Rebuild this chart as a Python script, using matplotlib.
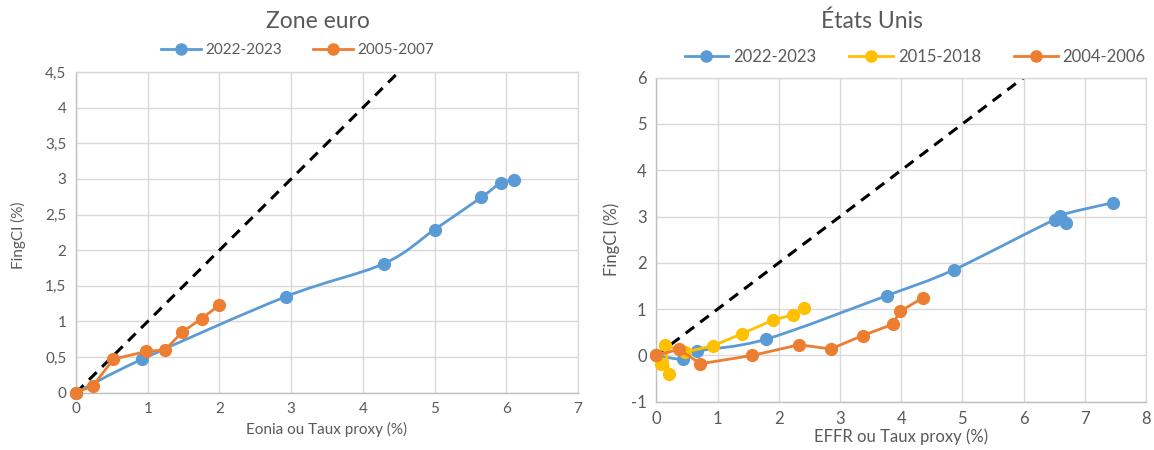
import numpy as np
import matplotlib
matplotlib.use("Agg")
import matplotlib.pyplot as plt
from matplotlib.path import Path
from matplotlib.patches import PathPatch
from matplotlib.lines import Line2D
from matplotlib.ticker import FuncFormatter, MultipleLocator

plt.rcParams['font.family'] = ['Lato', 'DejaVu Sans']

# ---- data: Zone euro ----
ez_2022_x = [0.0, 0.92, 2.93, 4.29, 5.00, 5.65, 5.92, 6.11]
ez_2022_y = [0.0, 0.47, 1.35, 1.81, 2.29, 2.74, 2.94, 2.98]
ez_2005_x = [0.0, 0.24, 0.52, 0.98, 1.24, 1.48, 1.75, 2.00]
ez_2005_y = [0.0, 0.10, 0.47, 0.58, 0.60, 0.85, 1.04, 1.23]

# ---- data: Etats Unis ----
us_2022_x = [0.0, 0.44, 0.66, 1.79, 3.76, 4.86, 6.51, 6.70, 6.59, 7.46]
us_2022_y = [0.0, -0.08, 0.09, 0.35, 1.29, 1.85, 2.93, 2.87, 3.02, 3.30]
us_2015_x = [0.0, 0.07, 0.21, 0.14, 0.46, 0.93, 1.40, 1.90, 2.24, 2.41]
us_2015_y = [0.0, -0.19, -0.41, 0.23, 0.07, 0.21, 0.47, 0.76, 0.88, 1.02]
us_2004_x = [0.0, 0.37, 0.72, 1.57, 2.33, 2.85, 3.37, 3.86, 3.98, 4.36]
us_2004_y = [0.0, 0.13, -0.18, 0.00, 0.23, 0.14, 0.43, 0.67, 0.95, 1.25]

BLUE = "#5B9BD5"
ORANGE = "#ED7D31"
YELLOW = "#FFC000"
GRAY = "#595959"
GRID = "#D9D9D9"


def smooth_path(x, y):
    # Excel style smoothed line: cubic bezier between points
    p = np.column_stack([x, y]).astype(float)
    verts = [p[0]]
    codes = [Path.MOVETO]
    n = len(p)
    for i in range(n - 1):
        p0 = p[i - 1] if i > 0 else p[i]
        p3 = p[i + 2] if i + 2 < n else p[i + 1]
        c1 = p[i] + (p[i + 1] - p0) / 6.0
        c2 = p[i + 1] - (p3 - p[i]) / 6.0
        verts += [c1, c2, p[i + 1]]
        codes += [Path.CURVE4] * 3
    return Path(verts, codes)


def comma_fmt(v, pos):
    s = f"{v:g}"
    return s.replace(".", ",")


def style_axes(ax, fs):
    ax.grid(True, color=GRID, lw=1.0)
    ax.set_axisbelow(True)
    for sp in ax.spines.values():
        sp.set_color(GRID)
        sp.set_linewidth(1.0)
    ax.spines['bottom'].set_color("#BFBFBF")
    ax.spines['left'].set_color("#BFBFBF")
    ax.tick_params(length=0, labelsize=fs, colors=GRAY, pad=7)
    ax.yaxis.set_major_formatter(FuncFormatter(comma_fmt))


def draw_series(ax, x, y, color, smooth=False):
    if smooth:
        ax.add_patch(PathPatch(smooth_path(x, y), fill=False, edgecolor=color,
                               lw=2.0, zorder=3, capstyle='round'))
        ax.plot(x, y, ls='none', marker='o', ms=8.5, color=color, zorder=4,
                clip_on=False)
    else:
        ax.plot(x, y, '-o', color=color, lw=2.0, ms=8.5, zorder=4, clip_on=False)


fig = plt.figure(figsize=(11.54, 4.5), dpi=100)

# ---- left: Zone euro ----
ax1 = fig.add_axes([0.0659, 0.1273, 0.4350, 0.7127])
style_axes(ax1, 11)
ax1.set_xlim(0, 7)
ax1.set_ylim(0, 4.5)
ax1.xaxis.set_major_locator(MultipleLocator(1))
ax1.yaxis.set_major_locator(MultipleLocator(0.5))
ax1.axline((0, 0), slope=1, color="black", lw=2.2, ls=(0, (3.5, 2.5)), zorder=2)
draw_series(ax1, ez_2022_x, ez_2022_y, BLUE, smooth=True)
draw_series(ax1, ez_2005_x, ez_2005_y, ORANGE)
ax1.set_xlabel("Eonia ou Taux proxy (%)", fontsize=11, color=GRAY, labelpad=4)
fig.text(0.0156, 0.478, "FingCI (%)", rotation=90, ha='center', va='center',
         fontsize=11, color=GRAY)
fig.text(0.2756, 0.953, "Zone euro", ha='center', va='center', fontsize=16.5, color=GRAY)
h1 = [Line2D([], [], color=BLUE, lw=2, marker='o', ms=8),
      Line2D([], [], color=ORANGE, lw=2, marker='o', ms=8)]
fig.legend(h1, ["2022-2023", "2005-2007"], loc='center', bbox_to_anchor=(0.258, 0.889),
           ncol=2, frameon=False, fontsize=11, labelcolor=GRAY, handlelength=2.6,
           columnspacing=2.0, handletextpad=0.3)

# ---- right: Etats Unis ----
ax2 = fig.add_axes([0.5688, 0.1073, 0.4243, 0.7202])
style_axes(ax2, 12)
ax2.set_xlim(0, 8)
ax2.set_ylim(-1, 6)
ax2.xaxis.set_major_locator(MultipleLocator(1))
ax2.yaxis.set_major_locator(MultipleLocator(1))
ax2.axline((0, 0), slope=1, color="black", lw=2.2, ls=(0, (3.5, 2.5)), zorder=2)
draw_series(ax2, us_2022_x, us_2022_y, BLUE, smooth=True)
draw_series(ax2, us_2015_x, us_2015_y, YELLOW)
draw_series(ax2, us_2004_x, us_2004_y, ORANGE)
ax2.set_xlabel("EFFR ou Taux proxy (%)", fontsize=12, color=GRAY, labelpad=1)
fig.text(0.530, 0.467, "FingCI (%)", rotation=90, ha='center', va='center',
         fontsize=12, color=GRAY)
fig.text(0.7556, 0.953, "États Unis", ha='center', va='center', fontsize=16.5, color=GRAY)
h2 = [Line2D([], [], color=BLUE, lw=2, marker='o', ms=8),
      Line2D([], [], color=YELLOW, lw=2, marker='o', ms=8),
      Line2D([], [], color=ORANGE, lw=2, marker='o', ms=8)]
fig.legend(h2, ["2022-2023", "2015-2018", "2004-2006"], loc='center',
           bbox_to_anchor=(0.793, 0.873), ncol=3, frameon=False, fontsize=12,
           labelcolor=GRAY, handlelength=2.6, columnspacing=2.0, handletextpad=0.3)

fig.savefig("out.png", dpi=100)
